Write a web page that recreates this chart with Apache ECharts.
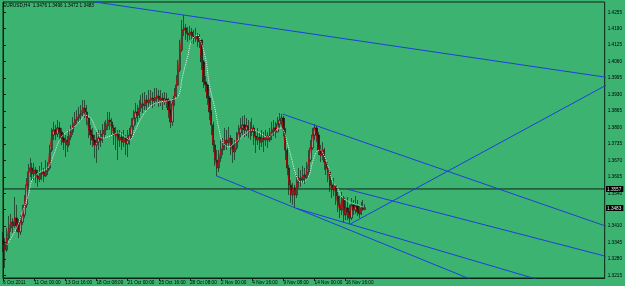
<!DOCTYPE html>
<html><head><meta charset="utf-8">
<style>html,body{margin:0;padding:0;background:#3cb371;}#c{width:625px;height:286px;}</style>
<script src="https://cdn.jsdelivr.net/npm/echarts@6.0.0/dist/echarts.min.js"></script>
</head><body><div id="c"></div>
<script>
const titleText = 'EURUSD,H4  1.3476 1.3496 1.3472 1.3483';
const xTickLabels = ['6 Oct 2011','11 Oct 00:00','13 Oct 16:00','18 Oct 08:00','21 Oct 00:00','25 Oct 16:00','28 Oct 08:00','2 Nov 00:00','4 Nov 16:00','9 Nov 08:00','14 Nov 00:00','16 Nov 16:00'];
const barsPerLabel = 16;
const yTicks = [1.3215,1.3280,1.3345,1.3410,1.3475,1.3540,1.3605,1.3670,1.3735,1.3800,1.3865,1.3930,1.3995,1.4060,1.4125,1.4190,1.4255];
const firstOpen = 1.3355;
const closes = [
1.3336,1.3316,1.3363,1.3403,1.3426,1.3411,1.3442,1.3415,1.3387,1.3426,
1.3454,1.3494,1.3573,1.3624,1.3640,1.3616,1.3632,1.3608,1.3596,1.3616,
1.3624,1.3608,1.3628,1.3640,1.3711,1.3770,1.3790,1.3774,1.3798,1.3782,
1.3758,1.3742,1.3750,1.3731,1.3762,1.3782,1.3810,1.3829,1.3837,1.3849,
1.3857,1.3877,1.3861,1.3837,1.3790,1.3770,1.3750,1.3731,1.3742,1.3758,
1.3750,1.3774,1.3790,1.3806,1.3829,1.3822,1.3798,1.3770,1.3778,1.3750,
1.3762,1.3742,1.3758,1.3735,1.3750,1.3770,1.3806,1.3837,1.3861,1.3849,
1.3877,1.3893,1.3885,1.3908,1.3897,1.3908,1.3916,1.3905,1.3916,1.3924,
1.3908,1.3916,1.3905,1.3912,1.3908,1.3869,1.3822,1.3893,1.3924,1.3968,
1.4027,1.4106,1.4185,1.4193,1.4173,1.4165,1.4177,1.4161,1.4153,1.4161,
1.4138,1.4146,1.4059,1.3980,1.3968,1.3916,1.3861,1.3810,1.3731,1.3671,
1.3640,1.3679,1.3711,1.3727,1.3750,1.3739,1.3758,1.3731,1.3703,1.3719,
1.3750,1.3778,1.3798,1.3810,1.3790,1.3806,1.3790,1.3782,1.3798,1.3766,
1.3750,1.3762,1.3742,1.3758,1.3750,1.3766,1.3750,1.3770,1.3790,1.3798,
1.3782,1.3814,1.3829,1.3837,1.3790,1.3711,1.3640,1.3573,1.3533,1.3561,
1.3533,1.3584,1.3600,1.3592,1.3612,1.3600,1.3624,1.3671,1.3719,1.3770,
1.3798,1.3770,1.3711,1.3691,1.3711,1.3663,1.3640,1.3624,1.3573,1.3553,
1.3569,1.3529,1.3494,1.3474,1.3521,1.3454,1.3482,1.3466,1.3442,1.3494,
1.3474,1.3490,1.3466,1.3458,1.3482,1.3476,1.3483];
const highs = [
1.3387,1.3363,1.3403,1.3450,1.3458,1.3442,1.3525,1.3494,1.3438,1.3454,
1.3494,1.3533,1.3600,1.3656,1.3679,1.3660,1.3660,1.3644,1.3632,1.3648,
1.3663,1.3640,1.3671,1.3663,1.3731,1.3798,1.3822,1.3810,1.3829,1.3822,
1.3798,1.3778,1.3770,1.3766,1.3790,1.3810,1.3841,1.3861,1.3869,1.3881,
1.3889,1.3908,1.3908,1.3889,1.3837,1.3810,1.3798,1.3770,1.3782,1.3790,
1.3790,1.3814,1.3822,1.3829,1.3861,1.3861,1.3837,1.3810,1.3802,1.3790,
1.3790,1.3782,1.3790,1.3770,1.3790,1.3798,1.3837,1.3869,1.3897,1.3889,
1.3908,1.3928,1.3936,1.3940,1.3928,1.3948,1.3948,1.3940,1.3956,1.3956,
1.3948,1.3948,1.3936,1.3940,1.3936,1.3916,1.3908,1.3916,1.3956,1.4007,
1.4067,1.4146,1.4225,1.4244,1.4209,1.4197,1.4201,1.4193,1.4185,1.4193,
1.4173,1.4169,1.4146,1.4067,1.4003,1.3972,1.3924,1.3869,1.3822,1.3750,
1.3711,1.3711,1.3750,1.3758,1.3798,1.3790,1.3802,1.3770,1.3758,1.3750,
1.3782,1.3810,1.3837,1.3845,1.3849,1.3837,1.3829,1.3822,1.3837,1.3810,
1.3790,1.3798,1.3778,1.3790,1.3782,1.3790,1.3782,1.3798,1.3822,1.3829,
1.3822,1.3841,1.3857,1.3853,1.3845,1.3798,1.3719,1.3652,1.3592,1.3581,
1.3573,1.3612,1.3640,1.3632,1.3648,1.3640,1.3663,1.3711,1.3750,1.3798,
1.3814,1.3806,1.3782,1.3731,1.3742,1.3719,1.3679,1.3663,1.3632,1.3592,
1.3600,1.3573,1.3545,1.3529,1.3545,1.3529,1.3513,1.3525,1.3494,1.3521,
1.3513,1.3529,1.3513,1.3494,1.3505,1.3513,1.3496];
const lows = [
1.3308,1.3245,1.3308,1.3355,1.3387,1.3383,1.3403,1.3387,1.3363,1.3375,
1.3415,1.3442,1.3482,1.3561,1.3604,1.3592,1.3592,1.3581,1.3565,1.3584,
1.3592,1.3584,1.3604,1.3612,1.3632,1.3703,1.3750,1.3750,1.3762,1.3750,
1.3731,1.3711,1.3683,1.3703,1.3723,1.3750,1.3770,1.3798,1.3810,1.3822,
1.3829,1.3841,1.3837,1.3810,1.3758,1.3731,1.3723,1.3679,1.3660,1.3711,
1.3723,1.3739,1.3758,1.3770,1.3790,1.3790,1.3770,1.3731,1.3711,1.3671,
1.3723,1.3711,1.3723,1.3691,1.3683,1.3731,1.3758,1.3790,1.3810,1.3822,
1.3837,1.3861,1.3857,1.3869,1.3869,1.3881,1.3889,1.3877,1.3885,1.3893,
1.3881,1.3885,1.3869,1.3889,1.3877,1.3837,1.3798,1.3806,1.3885,1.3916,
1.3964,1.4019,1.4098,1.4161,1.4146,1.4138,1.4146,1.4134,1.4130,1.4138,
1.4118,1.4114,1.4027,1.3956,1.3940,1.3889,1.3829,1.3770,1.3703,1.3648,
1.3608,1.3624,1.3663,1.3691,1.3711,1.3711,1.3727,1.3691,1.3660,1.3671,
1.3711,1.3742,1.3758,1.3770,1.3762,1.3766,1.3758,1.3750,1.3766,1.3731,
1.3699,1.3731,1.3711,1.3723,1.3703,1.3727,1.3719,1.3742,1.3750,1.3766,
1.3758,1.3782,1.3798,1.3806,1.3766,1.3671,1.3612,1.3533,1.3502,1.3494,
1.3482,1.3521,1.3561,1.3565,1.3581,1.3577,1.3592,1.3612,1.3663,1.3711,
1.3750,1.3742,1.3691,1.3663,1.3671,1.3632,1.3612,1.3584,1.3545,1.3521,
1.3529,1.3494,1.3466,1.3442,1.3454,1.3426,1.3434,1.3434,1.3419,1.3434,
1.3454,1.3458,1.3450,1.3442,1.3454,1.3470,1.3472];
const slowMA = [
[2,1.3336],[7,1.3403],[10,1.3466],[13,1.3533],[15,1.3592],[19,1.3624],[23,1.3640],[26,1.3691],[29,1.3750],[32,1.3778],
[36,1.3798],[40,1.3829],[42,1.3849],[45,1.3837],[48,1.3790],[51,1.3758],[55,1.3766],[59,1.3778],[63,1.3762],[65,1.3750],
[68,1.3790],[71,1.3837],[76,1.3885],[81,1.3901],[86,1.3908],[90,1.3924],[92,1.3995],[95,1.4086],[97,1.4146],[100,1.4165],
[101,1.4153],[104,1.4074],[106,1.3968],[109,1.3869],[111,1.3790],[113,1.3739],[116,1.3723],[119,1.3739],[122,1.3758],[125,1.3778],
[128,1.3790],[132,1.3778],[136,1.3762],[139,1.3778],[142,1.3798],[144,1.3790],[146,1.3739],[148,1.3683],[150,1.3624],[152,1.3588],
[154,1.3584],[157,1.3608],[159,1.3663],[161,1.3703],[163,1.3711],[165,1.3687],[167,1.3644],[169,1.3592],[172,1.3557],[174,1.3525],
[178,1.3505],[182,1.3494],[185,1.3486]];
const hLinePrice = 1.3557;
const lastPrice = 1.3483;
const trendTop = [[40,1.4304],[310,1.3998]];
const trendUpperChannel = [[143.6,1.3853],[310,1.3409]];
const trendMid = [[176.8,1.3556],[310,1.3290]];
const trendLowA = [[109.5,1.3609],[245,1.3185]];
const trendLowB = [[150.4,1.3481],[280,1.3187]];
const trendRise = [[178.5,1.3419],[310,1.3968]];

const N = 310;
const cats = Array.from({length:N},(_,i)=>String(i));
const ohlc = closes.map((c,i)=>[i===0?firstOpen:closes[i-1], c, lows[i], highs[i]]);
const FONT = 'Liberation Sans';
const FG = '#0c2414';
const isLabelIdx = (i)=> i % barsPerLabel === 0 && i / barsPerLabel < xTickLabels.length;
const blue = '#1f3fdc';
const trend = (d)=>({type:'line', xAxisIndex:1, data:d, symbol:'none', silent:true, lineStyle:{color:blue, width:1}, z:5});

const chart = echarts.init(document.getElementById('c'), null, {renderer:'canvas'});
chart.setOption({
  animation:false,
  backgroundColor:'#3cb371',
  textStyle:{fontFamily:FONT},
  title:{text:titleText, left:3, top:3, padding:0, textStyle:{fontSize:4.7, fontWeight:'normal', color:'#000', fontFamily:FONT}},
  grid:{left:1, right:20, top:2, bottom:8, show:true, borderColor:FG, borderWidth:1, backgroundColor:'transparent'},
  xAxis:[{
    type:'category', data:cats, boundaryGap:false,
    axisLine:{show:true, lineStyle:{color:FG, width:1}},
    axisTick:{show:true, length:3, interval:(i)=>isLabelIdx(i), lineStyle:{color:FG}},
    axisLabel:{show:true, interval:(i)=>isLabelIdx(i), formatter:(v,i)=>xTickLabels[Number(v)/barsPerLabel]||'', align:'left', margin:2, fontSize:4.7, color:'#000', fontFamily:FONT},
    splitLine:{show:false}
  },{
    type:'value', min:0, max:N-1, show:false, position:'top'
  }],
  yAxis:{
    type:'value', position:'right', min:1.32051, max:1.42957,
    splitLine:{show:false},
    axisLine:{show:true, lineStyle:{color:FG}},
    axisTick:{show:true, length:3, customValues:yTicks, lineStyle:{color:FG}},
    axisLabel:{show:true, customValues:yTicks, formatter:(v)=>v.toFixed(4), fontSize:4.7, color:'#000', margin:3, fontFamily:FONT}
  },
  series:[
    {type:'line', xAxisIndex:1, data:[[0,hLinePrice],[N-1,hLinePrice]], symbol:'none', silent:true, lineStyle:{color:FG, width:1}, z:1},
    {type:'candlestick', data:ohlc, barWidth:1.8,
     itemStyle:{color:'#969696', color0:'#3a0a0a', borderColor:'#101010', borderColor0:'#101010', borderWidth:0.6}, z:2},
    {type:'line', data:closes, symbol:'none', silent:true, lineStyle:{color:'#d80000', width:0.8}, z:3},
    {type:'line', xAxisIndex:1, data:slowMA, smooth:0.4, symbol:'none', silent:true, lineStyle:{color:'#f0f0f0', width:1, type:'dotted'}, z:4},
    trend(trendTop), trend(trendUpperChannel), trend(trendMid), trend(trendLowA), trend(trendLowB), trend(trendRise)
  ]
});
function priceBox(price){
  const y = chart.convertToPixel({yAxisIndex:0}, price);
  return {type:'text', left:606, top:Math.round(y)-3, z:100, silent:true,
    style:{text:price.toFixed(4), fill:'#e8e8e8', font:'4.7px "Liberation Sans"', backgroundColor:'#000', padding:[1,2,0,1]}};
}
chart.setOption({graphic:[priceBox(hLinePrice), priceBox(lastPrice)]});
</script></body></html>
